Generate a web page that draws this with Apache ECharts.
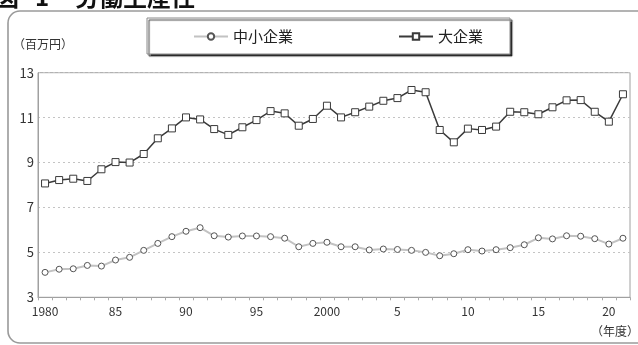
<!DOCTYPE html>
<html>
<head>
<meta charset="utf-8">
<script src="https://cdn.jsdelivr.net/npm/echarts@6/dist/echarts.min.js"></script>
<style>
  html, body { margin: 0; padding: 0; background: #fff; }
  #chart { width: 638px; height: 345px; }
</style>
</head>
<body>
<div id="chart"></div>
<script>
// Fiscal years on the category axis
const years = ['1980','1981','1982','1983','1984','1985','1986','1987','1988','1989',
  '1990','1991','1992','1993','1994','1995','1996','1997','1998','1999',
  '2000','2001','2002','2003','2004','2005','2006','2007','2008','2009',
  '2010','2011','2012','2013','2014','2015','2016','2017','2018','2019',
  '2020','2021'];

// Labour productivity, million yen per worker
const smallFirms = [4.11, 4.25, 4.27, 4.42, 4.39, 4.66, 4.78, 5.09, 5.40, 5.70,
  5.94, 6.10, 5.74, 5.68, 5.73, 5.73, 5.70, 5.63, 5.25, 5.40,
  5.45, 5.25, 5.25, 5.11, 5.15, 5.13, 5.09, 5.00, 4.85, 4.94,
  5.12, 5.06, 5.12, 5.21, 5.34, 5.65, 5.60, 5.74, 5.72, 5.61,
  5.37, 5.63];
const largeFirms = [8.07, 8.22, 8.28, 8.18, 8.70, 9.02, 9.00, 9.38, 10.08, 10.52,
  11.01, 10.92, 10.49, 10.23, 10.57, 10.89, 11.29, 11.19, 10.64, 10.94,
  11.53, 11.01, 11.24, 11.49, 11.75, 11.87, 12.23, 12.13, 10.45, 9.90,
  10.51, 10.45, 10.60, 11.26, 11.24, 11.15, 11.46, 11.77, 11.78, 11.26,
  10.82, 12.04];

// Years that carry a label on the x axis, and the text shown for each
const labelYears = ['1980','1985','1990','1995','2000','2005','2010','2015','2020'];
const labelTexts = ['1980','85','90','95','2000','5','10','15','20'];

// Y axis scale
const yMin = 3, yMax = 13, yStep = 2;

const seriesNames = ['中小企業', '大企業'];

const jp = '"Noto Sans CJK JP", "Noto Sans", sans-serif';

const chart = echarts.init(document.getElementById('chart'), null, { renderer: 'canvas' });

chart.setOption({
  backgroundColor: '#fff',
  animation: false,
  textStyle: { fontFamily: jp },
  graphic: [
    // rounded panel frame
    {
      type: 'rect', z: -1,
      shape: { x: 8, y: 11, width: 660, height: 332, r: 12 },
      style: { fill: 'none', stroke: '#9a9a9a', lineWidth: 1.6 }
    },
    // heading, clipped by the top edge
    { type: 'text', left: -5, top: -15,
      style: { text: '図', font: 'bold 24px ' + jp, fill: '#111' } },
    { type: 'text', left: 35, top: -15,
      style: { text: '1', font: 'bold 24px ' + jp, fill: '#111' } },
    { type: 'text', left: 75, top: -15,
      style: { text: '労働生産性', font: 'bold 24px ' + jp, fill: '#111' } },
    // unit captions
    { type: 'text', left: 13, top: 38,
      style: { text: '（百万円）', font: '12px ' + jp, fill: '#333' } },
    { type: 'text', left: 591, top: 325,
      style: { text: '（年度）', font: '12px ' + jp, fill: '#333' } }
  ],
  legend: {
    data: seriesNames,
    left: 147, top: 18,
    padding: [11, 27, 10, 46],
    itemGap: 105,
    itemWidth: 34, itemHeight: 8,
    backgroundColor: '#fff',
    borderColor: '#8a8a8a', borderWidth: 1,
    shadowColor: 'rgba(0,0,0,0.75)', shadowBlur: 1, shadowOffsetX: 2, shadowOffsetY: 2,
    textStyle: { fontSize: 15, color: '#222', fontFamily: jp }
  },
  grid: {
    left: 38, right: 8, top: 72.7, bottom: 47.7,
    show: true, borderColor: '#a0a0a0', borderWidth: 1
  },
  xAxis: {
    type: 'category',
    data: years,
    boundaryGap: true,
    axisLine: { lineStyle: { color: '#a0a0a0', width: 1 } },
    axisTick: { show: true, interval: 0, length: 3, lineStyle: { color: '#aaa' } },
    axisLabel: {
      interval: (i, v) => labelYears.indexOf(v) >= 0,
      formatter: v => labelTexts[labelYears.indexOf(v)],
      fontSize: 12, color: '#333', margin: 8, fontFamily: jp
    },
    splitLine: { show: false }
  },
  yAxis: {
    type: 'value',
    min: yMin, max: yMax, interval: yStep,
    axisLine: { show: true, lineStyle: { color: '#a0a0a0', width: 1 } },
    axisTick: { show: false },
    axisLabel: { fontSize: 13, color: '#333', margin: 4, fontFamily: jp },
    splitLine: { lineStyle: { color: '#c4c4c4', type: [2, 3], width: 1 } }
  },
  series: [
    {
      name: seriesNames[0],
      type: 'line',
      data: smallFirms,
      symbol: 'circle', symbolSize: 6,
      lineStyle: { color: '#c2c2c2', width: 2 },
      itemStyle: { color: '#fff', borderColor: '#555', borderWidth: 1 }
    },
    {
      name: seriesNames[1],
      type: 'line',
      data: largeFirms,
      symbol: 'rect', symbolSize: 7,
      lineStyle: { color: '#3a3a3a', width: 1.5 },
      itemStyle: { color: '#fff', borderColor: '#3a3a3a', borderWidth: 1 }
    }
  ]
});
</script>
</body>
</html>
